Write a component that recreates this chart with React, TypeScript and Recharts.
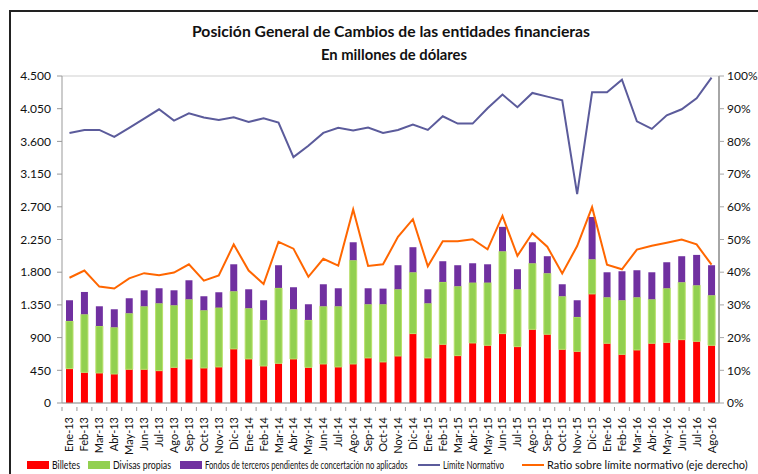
import React, { useLayoutEffect, useRef } from 'react';
import {
  ComposedChart,
  Bar,
  Line,
  XAxis,
  YAxis,
  CartesianGrid,
} from 'recharts';

// meses (Ene-13 .. Ago-16)
const months = [
  'Ene-13', 'Feb-13', 'Mar-13', 'Abr-13', 'May-13', 'Jun-13', 'Jul-13', 'Ago-13', 'Sep-13', 'Oct-13', 'Nov-13', 'Dic-13',
  'Ene-14', 'Feb-14', 'Mar-14', 'Abr-14', 'May-14', 'Jun-14', 'Jul-14', 'Ago-14', 'Sep-14', 'Oct-14', 'Nov-14', 'Dic-14',
  'Ene-15', 'Feb-15', 'Mar-15', 'Abr-15', 'May-15', 'Jun-15', 'Jul-15', 'Ago-15', 'Sep-15', 'Oct-15', 'Nov-15', 'Dic-15',
  'Ene-16', 'Feb-16', 'Mar-16', 'Abr-16', 'May-16', 'Jun-16', 'Jul-16', 'Ago-16',
];

// millones de USD
const billetes = [
  473, 422, 413, 399, 464, 464, 445, 491, 606, 482, 496, 744,
  606, 509, 546, 606, 491, 537, 496, 537, 620, 565, 647, 955,
  620, 808, 652, 826, 794, 955, 776, 1014, 946, 739, 711, 1501,
  822, 670, 730, 822, 835, 872, 849, 794,
];

const divisas = [
  656, 799, 647, 643, 771, 867, 927, 854, 821, 794, 817, 794,
  698, 634, 1038, 684, 652, 794, 835, 1428, 739, 794, 918, 844,
  752, 858, 955, 831, 863, 1133, 789, 909, 840, 730, 473, 477,
  633, 744, 725, 605, 744, 790, 771, 689,
];

const fondos = [
  285, 307, 271, 248, 206, 220, 207, 206, 262, 193, 211, 371,
  261, 271, 312, 303, 216, 303, 248, 247, 220, 215, 331, 345,
  193, 285, 289, 266, 252, 336, 276, 289, 234, 165, 230, 582,
  344, 399, 372, 372, 358, 358, 418, 413,
];

const limite = [
  3717, 3758, 3758, 3662, 3786, 3914, 4042, 3887, 3987, 3928, 3896, 3932,
  3868, 3918, 3859, 3383, 3539, 3717, 3786, 3749, 3790, 3717, 3758, 3832,
  3758, 3946, 3845, 3845, 4056, 4244, 4070, 4267, 4216, 4166, 2875, 4276,
  4276, 4450, 3877, 3772, 3960, 4042, 4193, 4477,
];

// % sobre limite normativo (eje derecho)
const ratio = [
  38.3, 40.5, 35.6, 35.0, 38.1, 39.7, 39.1, 39.9, 42.4, 37.4, 39.0, 48.5,
  40.5, 36.4, 49.3, 47.2, 38.6, 44.1, 42.0, 59.2, 41.9, 42.4, 50.8, 56.2,
  41.8, 49.5, 49.5, 50.1, 47.0, 57.2, 45.0, 51.9, 47.8, 39.6, 48.0, 59.9,
  42.3, 40.9, 46.9, 48.1, 49.0, 50.0, 48.5, 42.3,
];

const leftTicks = [0, 450, 900, 1350, 1800, 2250, 2700, 3150, 3600, 4050, 4500];
const rightTicks = [0, 10, 20, 30, 40, 50, 60, 70, 80, 90, 100];

const data = months.map((m, i) => ({
  mes: m,
  billetes: billetes[i],
  divisas: divisas[i],
  fondos: fondos[i],
  limite: limite[i],
  ratio: ratio[i],
}));

const FONT = 'Lato, "Open Sans", sans-serif';

const fmtMiles = (v: number) => String(v).replace(/\B(?=(\d{3})+(?!\d))/g, '.');

// texto comprimido horizontalmente hasta el ancho w (la fuente original es mas estrecha)
function FitText({ x, y, w, anchor = 'start', children, ...rest }: any) {
  const ref = useRef<SVGTextElement>(null);
  useLayoutEffect(() => {
    const el = ref.current;
    if (!el) return;
    const len = el.getComputedTextLength();
    const s = len > 0 ? Math.min(1, w / len) : 1;
    el.setAttribute('transform', `translate(${x},${y}) scale(${s},1)`);
  }, [x, y, w]);
  return (
    <text ref={ref} x={0} y={0} textAnchor={anchor} transform={`translate(${x},${y})`} {...rest}>
      {children}
    </text>
  );
}

// etiqueta vertical + marca entre categorias
const MonthTick = (props: any) => {
  const { x, y, payload } = props;
  const half = 657 / months.length / 2;
  return (
    <g transform={`translate(${x},${y})`}>
      <line x1={-half} x2={-half} y1={-4} y2={0} stroke="#999" />
      <text
        transform="rotate(-90)"
        x={-6}
        y={4}
        textAnchor="end"
        fontSize={11}
        fill="#111"
        fontFamily={FONT}
      >
        {payload.value}
      </text>
    </g>
  );
};

// leyenda: posicion x del simbolo y ancho del texto
const legendItems = [
  { label: 'Billetes', color: '#ff0000', type: 'box', left: 27, w: 28 },
  { label: 'Divisas propias', color: '#92d050', type: 'box', left: 88, w: 58 },
  { label: 'Fondos de terceros pendientes de concertación no aplicados', color: '#7030a0', type: 'box', left: 180, w: 203 },
  { label: 'Límite Normativo', color: '#5b5b9b', type: 'line', left: 418, w: 61 },
  { label: 'Ratio sobre límite normativo (eje derecho)', color: '#ff6600', type: 'line', left: 522, w: 208 },
];

export default function App() {
  return (
    <div style={{ position: 'absolute', left: 0, top: 0, width: 758, height: 474, overflow: 'hidden', background: '#fff', fontFamily: FONT }}>
      {/* marco */}
      <div style={{ position: 'absolute', left: 9, top: 10, width: 780, height: 500, border: '2px solid #222', boxSizing: 'border-box' }} />

      <div style={{ position: 'absolute', left: 0, top: 0 }}>
        <ComposedChart
          width={758}
          height={474}
          data={data}
          margin={{ top: 76, right: 0, left: 12, bottom: 0 }}
          barSize={7}
        >
          <CartesianGrid vertical={false} stroke="#cfcfcf" />
          <XAxis
            dataKey="mes"
            interval={0}
            height={71}
            tick={<MonthTick />}
            tickLine={false}
            axisLine={{ stroke: '#999' }}
          />
          <YAxis
            yAxisId="left"
            domain={[0, 4500]}
            ticks={leftTicks}
            width={50}
            tickSize={5}
            tickMargin={6}
            tickFormatter={fmtMiles}
            tick={{ fontSize: 12, fill: '#111', fontFamily: FONT }}
            axisLine={{ stroke: '#999' }}
            tickLine={{ stroke: '#999' }}
          />
          <YAxis
            yAxisId="right"
            orientation="right"
            domain={[0, 100]}
            ticks={rightTicks}
            width={39}
            tickSize={5}
            tickMargin={3}
            tickFormatter={(v: number) => `${v}%`}
            tick={{ fontSize: 12, fill: '#111', fontFamily: FONT }}
            axisLine={{ stroke: '#a6a6a6', strokeWidth: 2 }}
            tickLine={{ stroke: '#a6a6a6' }}
          />
          <Bar yAxisId="left" dataKey="billetes" stackId="a" fill="#ff0000" isAnimationActive={false} />
          <Bar yAxisId="left" dataKey="divisas" stackId="a" fill="#92d050" stroke="#b8e06a" strokeWidth={1} isAnimationActive={false} />
          <Bar yAxisId="left" dataKey="fondos" stackId="a" fill="#7030a0" isAnimationActive={false} />
          <Line yAxisId="left" dataKey="limite" stroke="#5b5b9b" strokeWidth={2} dot={false} type="linear" isAnimationActive={false} />
          <Line yAxisId="right" dataKey="ratio" stroke="#ff6600" strokeWidth={2} dot={false} type="linear" isAnimationActive={false} />
        </ComposedChart>
      </div>

      {/* titulo y leyenda */}
      <svg width={758} height={474} style={{ position: 'absolute', left: 0, top: 0, pointerEvents: 'none' }}>
        <text x={391} y={37} textAnchor="middle" fontSize={15} fontWeight={700} fill="#111" fontFamily={FONT} textLength={398} lengthAdjust="spacingAndGlyphs">
          Posición General de Cambios de las entidades financieras
        </text>
        <text x={394} y={60} textAnchor="middle" fontSize={15} fontWeight={700} fill="#111" fontFamily={FONT} textLength={146} lengthAdjust="spacingAndGlyphs">
          En millones de dólares
        </text>
        {legendItems.map((it) => (
          <g key={it.label}>
            {it.type === 'box' ? (
              <rect x={it.left} y={461} width={22} height={8} fill={it.color} />
            ) : (
              <rect x={it.left} y={464} width={22} height={2} fill={it.color} />
            )}
            <FitText x={it.left + 25} y={469} w={it.w} fontSize={11} fill="#111" fontFamily={FONT}>
              {it.label}
            </FitText>
          </g>
        ))}
      </svg>
    </div>
  );
}
